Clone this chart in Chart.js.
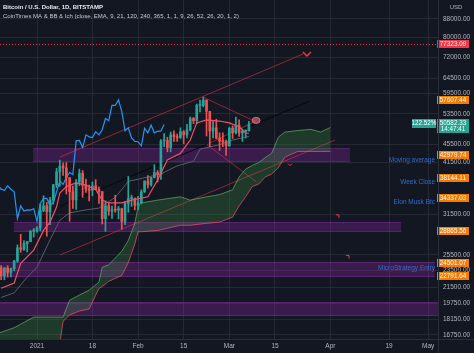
<!DOCTYPE html>
<html>
<head>
<meta charset="utf-8">
<script src="https://cdn.jsdelivr.net/npm/chart.js@4.4.1/dist/chart.umd.min.js"></script>
<style>
    html, body { margin: 0; padding: 0; background: #131722; }
    #wrap { position: relative; width: 474px; height: 353px; }
</style>
</head>
<body>
<div id="wrap"><canvas id="chart" width="474" height="353"></canvas></div>
<script>
// day 0 = 1 Jan 2021, first candle = 21 Dec 2020
const FIRST_DAY = -11;
const CHIKOU_SHIFT = 26;

const opens = [
    23840, 22850, 23820, 23260, 23720, 24690, 26480, 26270, 27050, 27360, 28880,
    28990, 29390, 32200, 33000, 31990, 34030, 36820, 39440, 40670, 40240, 38240,
    35540, 34030, 37390, 39150, 36770, 36020, 35800, 36630, 36000, 35530, 30850,
    33000, 32100, 32300, 32260, 32500, 30400, 33400, 34300, 34300,
    33100, 33500, 35500, 37600, 36900, 38300, 39300, 38900, 46400, 46500, 44800,
    47900, 47400, 47200, 48700, 47900, 49200, 52200, 51600, 55900, 55900, 57500,
    54200, 48900, 49700, 47100, 46300, 46200,
    45200, 49600, 48400, 50400, 48400, 48800, 48900,
];
const highs = [
    24100, 23850, 24100, 23790, 24790, 26880, 28420, 27500, 27370, 28990, 29300,
    29600, 33300, 34780, 33600, 34500, 36940, 40180, 41950, 41380, 41400, 38250,
    36600, 37850, 40000, 39700, 37950, 36800, 37400, 37850, 36400, 35600, 33850,
    33500, 32950, 34880, 32900, 32600, 33800, 38500, 34900, 34400,
    34700, 35900, 37600, 38700, 38300, 40950, 39700, 46700, 48200, 47300, 48600,
    48900, 48100, 49700, 49000, 50600, 52600, 52500, 56300, 57500, 58400, 57500,
    54200, 51400, 52000, 48400, 48400, 46600,
    49800, 50200, 52600, 51800, 49400, 49200, 51400,
];
const lows = [
    22390, 22380, 22700, 22720, 23450, 24520, 25850, 26100, 25900, 27320, 28000,
    28700, 28950, 32000, 28130, 29900, 33300, 36300, 36570, 38720, 35110, 30420,
    32530, 32380, 36700, 34500, 35400, 33850, 34800, 35900, 33400, 30000, 28850,
    31400, 30900, 31900, 30800, 29200, 29900, 31900, 32900, 32300,
    32300, 33400, 35400, 36200, 36600, 38200, 37400, 37900, 45000, 43800, 43800,
    46300, 46300, 47000, 45700, 47100, 48900, 50800, 50800, 54000, 55500, 47600,
    45000, 47100, 46900, 44100, 45000, 43000,
    45100, 47000, 48100, 47500, 46300, 47100, 48900,
];
const closes = [
    22850, 23820, 23260, 23720, 24690, 26480, 26270, 27050, 27360, 28880, 28990,
    29390, 32200, 33000, 31990, 34030, 36820, 39440, 40670, 40240, 38240, 35540,
    34030, 37390, 39150, 36770, 36020, 35800, 36630, 36000, 35530, 30850, 33000,
    32100, 32300, 32260, 32500, 30400, 33400, 34300, 34300, 33100,
    33500, 35500, 37600, 36900, 38300, 39300, 38900, 46400, 46500, 44800, 47900,
    47400, 47200, 48700, 47900, 49200, 52200, 51600, 55900, 55900, 57500, 54200,
    48900, 49700, 47100, 46300, 46200, 45200,
    49600, 48400, 50400, 48400, 48800, 48900, 50582.33,
];

// fast moving average (red) and slow line (grey)
const fastDays = [-11, -7, -5, -1, 2, 4, 6, 7, 9, 12, 15, 18, 20, 22, 26, 29, 34, 37, 38, 40, 44, 47, 49, 52, 56, 59, 62, 64, 65];
const fastValues = [21400, 22000, 24400, 26150, 29000, 30300, 32800, 35300, 36500, 37200, 36800, 35900, 34000, 33500, 33500, 34000, 34600, 37800, 39200, 42000, 43500, 46600, 51000, 51800, 51500, 51000, 50000, 48300, 48300];
const slowDays = [-11, -7, -3, 0, 4, 7, 10, 15, 19, 24, 28, 38, 43, 48, 50, 56, 60, 65];
const slowValues = [20400, 20900, 22700, 23900, 27600, 30600, 31800, 32300, 32600, 34500, 37500, 39000, 40700, 41700, 44400, 45500, 46600, 47500];

// ichimoku cloud (shifted forward)
const cloudDays = [-12, -7, -1, 7, 8, 10, 13, 16, 19, 20, 22, 26, 28, 30, 31, 32, 37, 44, 47, 52, 56, 60, 62, 64, 66, 68, 70, 72, 74, 76, 80, 84, 87, 90];
const spanA = [16900, 17400, 18400, 18400, 18400, 20100, 20650, 21200, 22100, 23900, 24200, 26000, 27500, 30100, 32800, 33500, 34000, 34600, 34000, 34600, 35000, 35900, 38400, 40000, 40800, 41400, 42500, 43500, 47300, 48600, 49000, 49300, 48600, 49800];
const spanB = [15500, 15500, 15800, 16000, 18000, 18600, 19000, 19200, 21400, 21600, 22200, 22900, 24500, 27000, 28800, 28800, 29000, 29800, 29800, 30100, 30300, 31100, 33000, 34600, 36500, 37000, 38400, 39000, 40300, 42600, 43900, 43900, 43900, 43900];

const timeTickDays = [0, 17, 31, 45, 59, 73, 90, 108, 120];
const timeTickLabels = ["2021", "18", "Feb", "15", "Mar", "15", "Apr", "19", "May"];
const priceTicks = [16750, 18150, 19750, 21500, 23500, 25500, 31500, 41500, 45500, 53500, 59500, 64500, 72000, 80000, 88000];

const levelPrices = [57607.44, 49620.85, 42979.74, 38144.11, 34337.03, 28865.56, 24501.07, 22791.64];
const alertPrice = 77323.09;
const lastPrice = 50582.33;

// horizontal zones: from day, to day, top price, bottom price
const zones = [
    [-1.2, 96, 44600, 41600],
    [-7.1, 111.7, 30300, 28800],
    [-12, 122, 24600, 22700],
    [-12, 124, 19900, 18500],
];
// trend lines: day1, price1, day2, price2
const channelLines = [
    [7.1, 42650, 81.6, 73200],
    [7.1, 25500, 91.4, 46600],
];
const middleLine = [7.1, 32950, 83.7, 57200];
const triangleLines = [
    [50.9, 58400, 66.9, 51400],
    [52.1, 45500, 66.9, 51400],
    [52.1, 45500, 67.3, 37400],
];
const noteLabels = [
    ["Moving average", 122.1, 42000],
    ["Week Close", 122.1, 37400],
    ["Elon Musk Btc", 122.1, 33650],
    ["MicroStrategy Entry", 122.1, 23800],
];

const UP = "#26a69a";
const DOWN = "#ef5350";
const FONT = "'Liberation Sans', Arial, sans-serif";

const candleDays = closes.map((_, i) => FIRST_DAY + i);
const candleColors = closes.map((c, i) => (c >= opens[i] ? UP : DOWN));

function noPadding(scale) {
    scale.paddingTop = 0;
    scale.paddingBottom = 0;
    scale.paddingLeft = 0;
    scale.paddingRight = 0;
}

const overlayPlugin = {
    id: "overlays",
    beforeDatasetsDraw(chart) {
        const { ctx, chartArea, scales } = chart;
        const px = (d, p) => [scales.x.getPixelForValue(d), scales.y.getPixelForValue(p)];
        ctx.save();
        ctx.beginPath();
        ctx.rect(chartArea.left, chartArea.top, chartArea.width, chartArea.height);
        ctx.clip();
        zones.forEach(([d1, d2, hi, lo]) => {
            const [x1, y1] = px(d1, hi);
            const [x2, y2] = px(d2, lo);
            ctx.fillStyle = "rgba(150, 40, 175, 0.3)";
            ctx.fillRect(x1, y1, x2 - x1, y2 - y1);
            ctx.strokeStyle = "rgba(170, 60, 200, 0.3)";
            ctx.lineWidth = 1;
            ctx.beginPath();
            ctx.moveTo(x1, Math.round(y1) + 0.5);
            ctx.lineTo(x2, Math.round(y1) + 0.5);
            ctx.moveTo(x1, Math.round(y2) - 0.5);
            ctx.lineTo(x2, Math.round(y2) - 0.5);
            ctx.stroke();
        });
        // alert line
        const ya = Math.round(scales.y.getPixelForValue(alertPrice)) + 0.5;
        ctx.strokeStyle = "#f23645";
        ctx.setLineDash([1, 2]);
        ctx.beginPath();
        ctx.moveTo(chartArea.left, ya);
        ctx.lineTo(chartArea.right, ya);
        ctx.stroke();
        ctx.setLineDash([]);
        const line = (seg, color) => {
            const [x1, y1] = px(seg[0], seg[1]);
            const [x2, y2] = px(seg[2], seg[3]);
            ctx.strokeStyle = color;
            ctx.lineWidth = 1;
            ctx.beginPath();
            ctx.moveTo(x1, y1);
            ctx.lineTo(x2, y2);
            ctx.stroke();
        };
        channelLines.forEach((seg) => line(seg, "rgba(242, 54, 69, 0.55)"));
        line(middleLine, "#06070a");
        triangleLines.forEach((seg) => line(seg, "rgba(242, 54, 69, 0.55)"));
        ctx.restore();
    },
    afterDatasetsDraw(chart) {
        const { ctx, scales } = chart;
        const px = (d, p) => [scales.x.getPixelForValue(d), scales.y.getPixelForValue(p)];
        ctx.save();
        ctx.strokeStyle = "#f23645";
        ctx.lineWidth = 1.5;
        // chevron at end of channel
        let [x, y] = px(82.8, 73200);
        ctx.beginPath();
        ctx.moveTo(x - 4, y - 2);
        ctx.lineTo(x, y + 2);
        ctx.lineTo(x + 4, y - 2);
        ctx.stroke();
        ctx.lineWidth = 1;
        [x, y] = px(77.6, 40950);
        ctx.beginPath();
        ctx.moveTo(x - 2, y - 1);
        ctx.lineTo(x, y + 1);
        ctx.lineTo(x + 2, y - 1);
        ctx.stroke();
        [[92.3, 31300], [95.4, 25300]].forEach(([d, p]) => {
            const [mx, my] = px(d, p);
            ctx.beginPath();
            ctx.moveTo(mx - 2, my - 1);
            ctx.lineTo(mx + 1, my - 1);
            ctx.lineTo(mx + 1, my + 2);
            ctx.stroke();
        });
        // pin at apex of triangle
        [x, y] = px(66.9, 51400);
        ctx.fillStyle = "rgba(242, 120, 140, 0.55)";
        ctx.strokeStyle = "#f06080";
        ctx.beginPath();
        ctx.ellipse(x + 1, y - 1, 4, 3, 0, 0, Math.PI * 2);
        ctx.fill();
        ctx.stroke();
        // notes
        ctx.font = `6.5px ${FONT}`;
        ctx.fillStyle = "#2f6cd6";
        ctx.textAlign = "right";
        ctx.textBaseline = "middle";
        noteLabels.forEach(([text, d, p]) => {
            const [tx, ty] = px(d, p);
            ctx.fillText(text, tx, ty);
        });
        ctx.restore();
    },
    afterDraw(chart) {
        const { ctx, chartArea, scales } = chart;
        const right = chartArea.right;
        ctx.save();
        ctx.font = `6.3px ${FONT}`;
        ctx.textBaseline = "middle";
        ctx.textAlign = "center";
        const box = (price, fill, text, x, w) => {
            const y = Math.round(scales.y.getPixelForValue(price));
            ctx.fillStyle = fill;
            ctx.fillRect(x, y - 4, w, 8);
            ctx.fillStyle = "#ffffff";
            ctx.fillText(text, x + w / 2, y);
        };
        levelPrices.forEach((p) => box(p, "#f57c00", p.toFixed(2), right - 1, 32));
        box(alertPrice, "#f23645", alertPrice.toFixed(2), right - 1, 32);
        // last price with countdown
        const yl = Math.round(scales.y.getPixelForValue(lastPrice));
        ctx.fillStyle = "#22a592";
        ctx.fillRect(right - 1, yl - 5, 32, 14);
        ctx.fillRect(right - 26, yl - 5, 24, 9);
        ctx.fillStyle = "#ffffff";
        ctx.fillText(lastPrice.toFixed(2), right + 15, yl - 0.5);
        ctx.fillText("14:47:41", right + 15, yl + 5);
        ctx.fillText("122.52%", right - 14, yl - 0.5);
        // axis borders
        ctx.strokeStyle = "#2a2e39";
        ctx.lineWidth = 1;
        ctx.beginPath();
        ctx.moveTo(right + 0.5, 0);
        ctx.lineTo(right + 0.5, chart.height);
        ctx.moveTo(0, chartArea.bottom + 0.5);
        ctx.lineTo(chart.width, chartArea.bottom + 0.5);
        ctx.stroke();
        // header
        ctx.textAlign = "left";
        ctx.fillStyle = "#e8e9ee";
        ctx.font = `bold 6px ${FONT}`;
        ctx.fillText("Bitcoin / U.S. Dollar, 1D, BITSTAMP", 3, 7);
        ctx.font = `6px ${FONT}`;
        ctx.fillStyle = "#c8cad3";
        ctx.fillText("CoinTimes MA & BB & Ich (close, EMA, 9, 21, 120, 240, 365, 1, 1, 9, 26, 52, 26, 20, 1, 2)", 3, 16);
        ctx.textAlign = "center";
        ctx.fillStyle = "#b2b5be";
        ctx.fillText("USD", right + 18, 7);
        ctx.restore();
    },
};

new Chart(document.getElementById("chart"), {
    data: {
        datasets: [
            {
                type: "line",
                label: "Senkou A",
                data: cloudDays.map((d, i) => ({ x: d, y: spanA[i] })),
                borderColor: "rgba(102, 187, 106, 0.65)",
                borderWidth: 1,
                pointRadius: 0,
                fill: { target: "+1", above: "rgba(67, 160, 71, 0.25)", below: "rgba(242, 54, 69, 0.15)" },
                order: 10,
            },
            {
                type: "line",
                label: "Senkou B",
                data: cloudDays.map((d, i) => ({ x: d, y: spanB[i] })),
                borderColor: "rgba(240, 90, 110, 0.7)",
                borderWidth: 1,
                pointRadius: 0,
                order: 9,
            },
            {
                type: "line",
                label: "Slow",
                data: slowDays.map((d, i) => ({ x: d, y: slowValues[i] })),
                borderColor: "#5d5a72",
                borderWidth: 1,
                pointRadius: 0,
                order: 8,
            },
            {
                type: "line",
                label: "Lagging",
                data: closes.map((c, i) => ({ x: candleDays[i] - CHIKOU_SHIFT, y: c })),
                borderColor: "#2196f3",
                borderWidth: 1.2,
                pointRadius: 0,
                order: 7,
            },
            {
                type: "bar",
                label: "Wicks",
                data: candleDays.map((d, i) => ({ x: d, y: [lows[i], highs[i]] })),
                backgroundColor: candleColors,
                barThickness: 1,
                grouped: false,
                order: 6,
            },
            {
                type: "bar",
                label: "Bodies",
                data: candleDays.map((d, i) => ({ x: d, y: [opens[i], closes[i]] })),
                backgroundColor: candleColors,
                barThickness: 2,
                minBarLength: 1,
                grouped: false,
                order: 5,
            },
            {
                type: "line",
                label: "Fast",
                data: fastDays.map((d, i) => ({ x: d, y: fastValues[i] })),
                borderColor: "#f0506e",
                borderWidth: 1.2,
                pointRadius: 0,
                order: 4,
            },
        ],
    },
    options: {
        responsive: false,
        animation: false,
        devicePixelRatio: 1,
        layout: { padding: 0 },
        plugins: {
            legend: { display: false },
            tooltip: { enabled: false },
        },
        scales: {
            x: {
                type: "linear",
                position: "bottom",
                offset: false,
                min: -11.35,
                max: 123,
                afterBuildTicks: (scale) => {
                    scale.ticks = timeTickDays.map((v) => ({ value: v }));
                },
                afterFit: (scale) => {
                    scale.height = 14;
                    noPadding(scale);
                },
                grid: { color: "rgba(42, 46, 57, 0.8)", drawTicks: false, offset: false },
                border: { display: false },
                ticks: {
                    autoSkip: false,
                    maxRotation: 0,
                    padding: 3,
                    color: "#b2b5be",
                    font: { size: 6.5, family: FONT },
                    callback: (value) => timeTickLabels[timeTickDays.indexOf(value)],
                },
            },
            y: {
                type: "logarithmic",
                position: "right",
                min: 16400,
                max: 97220,
                afterBuildTicks: (scale) => {
                    scale.ticks = priceTicks.map((v) => ({ value: v }));
                },
                afterFit: (scale) => {
                    scale.width = 36;
                    noPadding(scale);
                },
                grid: { color: "rgba(42, 46, 57, 0.8)", drawTicks: false },
                border: { display: false },
                ticks: {
                    autoSkip: false,
                    padding: 5,
                    color: "#b2b5be",
                    font: { size: 6.5, family: FONT },
                    callback: (value) => Number(value).toFixed(2),
                },
            },
        },
    },
    plugins: [overlayPlugin],
});
</script>
</body>
</html>
